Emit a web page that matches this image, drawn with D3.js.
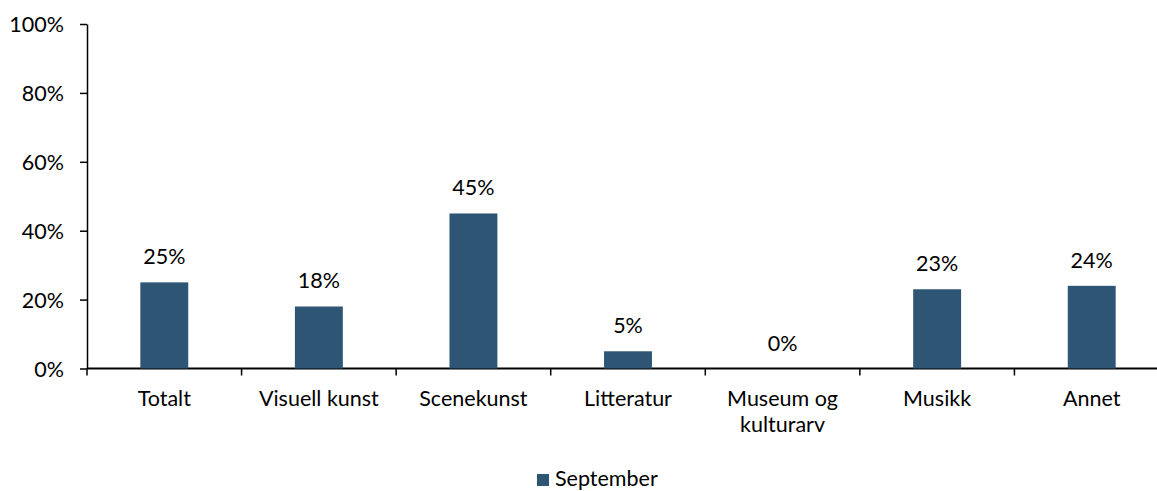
<!DOCTYPE html>
<html>
<head>
<meta charset="utf-8">
<script src="https://cdn.jsdelivr.net/npm/d3@7"></script>
<style>
  body { margin: 0; background: #fff; }
  text { font-family: Lato, "Open Sans", sans-serif; fill: #000; }
</style>
</head>
<body>
<script>
var width = 1157,
    height = 491;

var categories = ["Totalt", "Visuell kunst", "Scenekunst", "Litteratur", "Museum og kulturarv", "Musikk", "Annet"];
var values = [0.25, 0.18, 0.45, 0.05, 0.00, 0.23, 0.24];
var yTicks = [0, 0.2, 0.4, 0.6, 0.8, 1.0];
var seriesName = "September";

var barColor = "#2f5575";
var fs = "21.5px";

var svg = d3.select("body").append("svg").attr("width", width).attr("height", height);

var x = d3.scaleBand()
    .domain(categories)
    .range([87, 1169])
    .paddingInner(0.69)
    .paddingOuter(0.345);

var y = d3.scaleLinear()
    .domain([0, 1])
    .range([368.5, 24]);

// y axis
var yAxis = svg.append("g")
    .attr("transform", "translate(87,0)")
    .call(d3.axisLeft(y).tickValues(yTicks).tickFormat(d3.format(".0%")).tickSize(7).tickSizeOuter(0));
yAxis.select(".domain").attr("stroke", "#000").attr("stroke-width", 1.5);
yAxis.selectAll(".tick line").attr("stroke", "#000").attr("stroke-width", 1.5);
yAxis.selectAll(".tick text").attr("x", -23).attr("dy", "0.35em")
    .style("font-size", fs).style("font-family", "Lato, sans-serif");

// x axis: line plus ticks at category boundaries
var step = x.step();
var bounds = d3.range(categories.length + 1).map((i) => 87 + i * step);
svg.append("line")
    .attr("x1", 87).attr("x2", width)
    .attr("y1", y(0)).attr("y2", y(0))
    .attr("stroke", "#000").attr("stroke-width", 1.8);
svg.selectAll("line.xtick").data(bounds).enter().append("line")
    .attr("class", "xtick")
    .attr("x1", (d) => d).attr("x2", (d) => d)
    .attr("y1", y(0)).attr("y2", y(0) + 7)
    .attr("stroke", "#000").attr("stroke-width", 1.5);

// bars
svg.selectAll("rect.bar").data(values).enter().append("rect")
    .attr("class", "bar")
    .attr("x", (d, i) => x(categories[i]))
    .attr("y", (d) => y(d))
    .attr("width", x.bandwidth())
    .attr("height", (d) => y(0) - y(d))
    .attr("fill", barColor);

// value labels
svg.selectAll("text.val").data(values).enter().append("text")
    .attr("class", "val")
    .attr("x", (d, i) => x(categories[i]) + x.bandwidth() / 2)
    .attr("y", (d) => y(d) - 18)
    .attr("text-anchor", "middle")
    .style("font-size", fs)
    .text((d) => Math.round(d * 100) + "%");

// category labels (wrap long ones)
var catLabels = svg.selectAll("text.cat").data(categories).enter().append("text")
    .attr("class", "cat")
    .attr("text-anchor", "middle")
    .style("font-size", fs);
catLabels.each(function (d) {
    var lines = d === "Museum og kulturarv" ? ["Museum og", "kulturarv"] : [d];
    var cx = x(d) + x.bandwidth() / 2;
    d3.select(this).selectAll("tspan").data(lines).enter().append("tspan")
        .attr("x", cx)
        .attr("y", (l, j) => 406 + j * 26)
        .text((l) => l);
});

// legend
svg.append("rect")
    .attr("x", 537).attr("y", 474)
    .attr("width", 12).attr("height", 12)
    .attr("fill", barColor);
svg.append("text")
    .attr("x", 555).attr("y", 486)
    .style("font-size", fs)
    .text(seriesName);
</script>
</body>
</html>
